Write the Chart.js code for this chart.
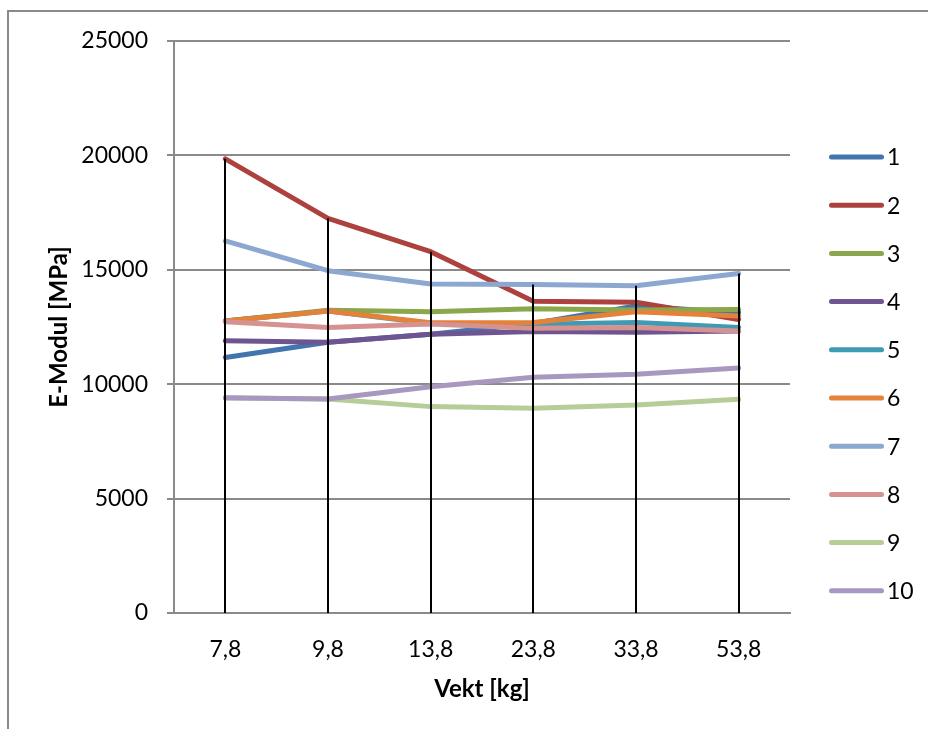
<!DOCTYPE html>
<html>
<head>
<meta charset="utf-8">
<script src="https://cdn.jsdelivr.net/npm/chart.js@4/dist/chart.umd.min.js"></script>
<style>
  html, body { margin: 0; padding: 0; background: #ffffff; }
  #wrap { width: 928px; height: 729px; }
</style>
</head>
<body>
<div id="wrap"><canvas id="c" width="928" height="729"></canvas></div>
<script>
// Load steps (kg) on the category axis
const categories = ['7,8', '9,8', '13,8', '23,8', '33,8', '53,8'];

// E-modulus (MPa) per specimen
const s1  = [11170, 11830, 12180, 12650, 13420, 13120];
const s2  = [19850, 17250, 15790, 13630, 13580, 12830];
const s3  = [12760, 13230, 13170, 13300, 13240, 13270];
const s4  = [11900, 11830, 12180, 12300, 12270, 12320];
const s5  = [12760, 13200, 12650, 12620, 12700, 12480];
const s6  = [12760, 13200, 12690, 12700, 13170, 12980];
const s7  = [16260, 14960, 14380, 14360, 14300, 14840];
const s8  = [12730, 12480, 12630, 12440, 12480, 12320];
const s9  = [9400, 9350, 9020, 8950, 9090, 9340];
const s10 = [9410, 9350, 9890, 10300, 10440, 10710];

const seriesNames = ['1', '2', '3', '4', '5', '6', '7', '8', '9', '10'];
const seriesValues = [s1, s2, s3, s4, s5, s6, s7, s8, s9, s10];

const yTicks = [0, 5000, 10000, 15000, 20000, 25000];

const colors = ['#4274ae', '#ad413e', '#8aa84b', '#6e5490', '#3f9bb3',
                '#e4823a', '#8ca8d1', '#d69291', '#b7cd97', '#a898bf'];

const FONT = 'Lato, "Liberation Sans", sans-serif';

const datasets = seriesValues.map((vals, i) => ({
  label: seriesNames[i],
  data: vals,
  borderColor: colors[i],
  backgroundColor: colors[i],
  borderWidth: 5,
  borderCapStyle: 'round',
  borderJoinStyle: 'round',
  pointRadius: 0,
  pointHoverRadius: 0,
  tension: 0,
  fill: false,
  order: seriesValues.length - i   // later series painted on top
}));

// Outer frame of the chart object
const framePlugin = {
  id: 'frame',
  beforeDraw(chart) {
    const ctx = chart.ctx;
    ctx.save();
    ctx.strokeStyle = '#8a8a8a';
    ctx.lineWidth = 2;
    ctx.beginPath();
    ctx.moveTo(8, chart.height + 5);
    ctx.lineTo(8, 11);
    ctx.lineTo(chart.width + 5, 11);
    ctx.stroke();
    ctx.restore();
  }
};

// Drop lines: from the highest series value at each category down to the axis
const dropLinePlugin = {
  id: 'dropLines',
  afterDatasetsDraw(chart) {
    const ctx = chart.ctx;
    const xs = chart.scales.x, ys = chart.scales.y;
    const y0 = ys.getPixelForValue(0);
    ctx.save();
    ctx.strokeStyle = '#000000';
    ctx.lineWidth = 2;
    categories.forEach((c, j) => {
      let top = -Infinity;
      chart.data.datasets.forEach(ds => { if (ds.data[j] > top) top = ds.data[j]; });
      const x = Math.round(xs.getPixelForValue(j));
      ctx.beginPath();
      ctx.moveTo(x, ys.getPixelForValue(top));
      ctx.lineTo(x, y0);
      ctx.stroke();
    });
    ctx.restore();
  }
};

// Legend column on the right
const legendPlugin = {
  id: 'sideLegend',
  afterDraw(chart) {
    const ctx = chart.ctx;
    const x0 = 831.5, x1 = 881.5, textX = 887, yStart = 157, step = 48.2;
    ctx.save();
    ctx.font = '23px ' + FONT;
    ctx.textAlign = 'left';
    ctx.textBaseline = 'middle';
    chart.data.datasets.forEach((ds, i) => {
      const y = yStart + i * step;
      ctx.strokeStyle = ds.borderColor;
      ctx.lineWidth = 5;
      ctx.lineCap = 'round';
      ctx.beginPath();
      ctx.moveTo(x0, y);
      ctx.lineTo(x1, y);
      ctx.stroke();
      ctx.fillStyle = '#000000';
      ctx.fillText(ds.label, textX, y + 1);
    });
    ctx.restore();
  }
};

new Chart(document.getElementById('c'), {
  type: 'line',
  data: { labels: categories, datasets },
  options: {
    responsive: false,
    animation: false,
    devicePixelRatio: 1,
    layout: { padding: { top: 41, right: 138, bottom: 0, left: 0 } },
    plugins: {
      legend: { display: false },
      tooltip: { enabled: false }
    },
    scales: {
      x: {
        offset: true,
        grid: { display: false, drawTicks: false },
        border: { display: true, color: '#8a8a8a', width: 2 },
        ticks: {
          color: '#000000',
          font: { family: FONT, size: 23 },
          padding: 23,
          maxRotation: 0,
          autoSkip: false
        },
        title: {
          display: true,
          text: 'Vekt [kg]',
          color: '#000000',
          font: { family: FONT, size: 24, weight: 'bold', lineHeight: 1.2 },
          padding: { top: 0, bottom: 25 }
        },
        afterFit(scale) { scale.height = 116; }
      },
      y: {
        min: 0,
        max: 25000,
        afterBuildTicks(scale) { scale.ticks = yTicks.map(v => ({ value: v })); },
        grid: { color: '#8a8a8a', lineWidth: 2, tickLength: 7, drawTicks: true },
        border: { display: true, color: '#8a8a8a', width: 2 },
        ticks: {
          color: '#000000',
          font: { family: FONT, size: 23 },
          padding: 19,
          callback: v => String(v)
        },
        title: {
          display: true,
          text: 'E-Modul [MPa]',
          color: '#000000',
          font: { family: FONT, size: 24, weight: 'bold', lineHeight: 1.2 },
          padding: { top: 45, bottom: 0 }
        },
        afterFit(scale) { scale.width = 174; }
      }
    }
  },
  plugins: [framePlugin, dropLinePlugin, legendPlugin]
});
</script>
</body>
</html>
